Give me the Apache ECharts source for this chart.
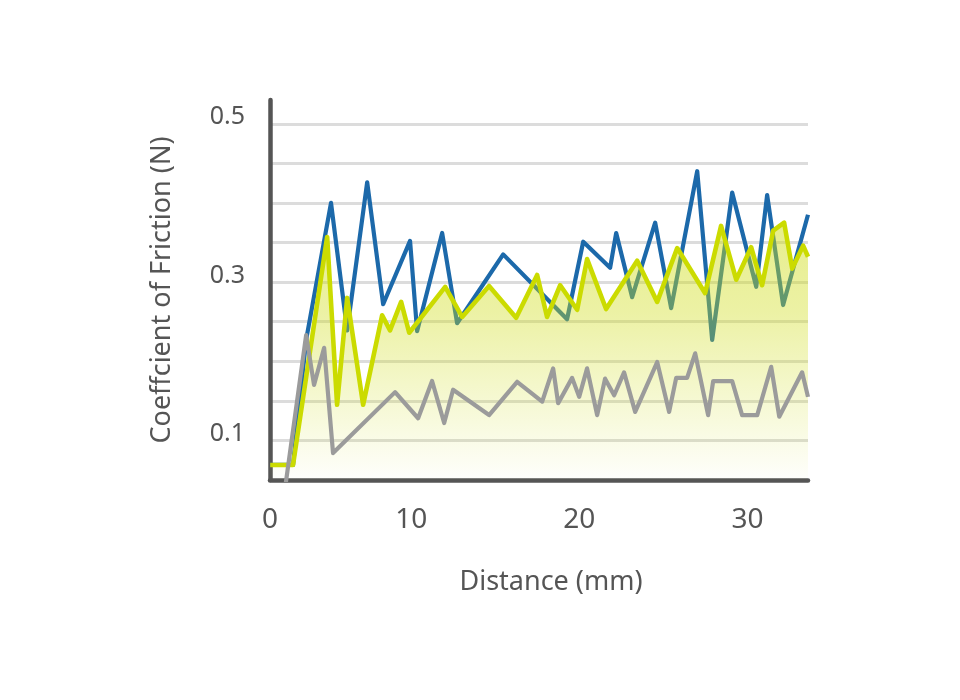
<!DOCTYPE html>
<html>
<head>
<meta charset="utf-8">
<script src="https://cdn.jsdelivr.net/npm/echarts@6/dist/echarts.min.js"></script>
<style>
html,body{margin:0;padding:0;background:#fff;}
#chart{width:960px;height:700px;}
</style>
</head>
<body>
<div id="chart"></div>
<script>
// ---- data ----
var blueX = [1.61, 2.97, 3.75, 5.23, 6.19, 7.38, 8.33, 9.93, 10.35, 11.84, 12.73, 15.47, 19.27, 20.23, 21.83, 22.19, 23.14, 24.51, 25.46, 27.01, 27.90, 29.09, 30.52, 31.17, 32.12, 33.6];
var blueY = [0.069, 0.069, 0.227, 0.400, 0.239, 0.426, 0.272, 0.352, 0.238, 0.362, 0.248, 0.335, 0.253, 0.351, 0.318, 0.362, 0.281, 0.375, 0.267, 0.440, 0.227, 0.413, 0.294, 0.410, 0.271, 0.385];

var yellowX = [1.61, 2.97, 5.00, 5.59, 6.19, 7.14, 8.27, 8.74, 9.40, 9.88, 12.02, 13.03, 14.63, 16.24, 17.49, 18.08, 18.86, 19.87, 20.46, 21.59, 23.44, 24.63, 25.82, 27.48, 28.43, 29.33, 30.22, 30.87, 31.53, 32.18, 32.66, 33.31, 33.6];
var yellowY = [0.069, 0.069, 0.357, 0.145, 0.280, 0.145, 0.258, 0.239, 0.275, 0.236, 0.294, 0.256, 0.295, 0.255, 0.309, 0.256, 0.296, 0.265, 0.329, 0.266, 0.327, 0.275, 0.343, 0.286, 0.371, 0.303, 0.344, 0.296, 0.365, 0.375, 0.317, 0.346, 0.332];

var grayX = [2.50, 3.75, 4.22, 4.82, 5.35, 9.04, 10.41, 11.24, 11.96, 12.49, 14.63, 16.30, 17.79, 18.44, 18.74, 19.57, 19.99, 20.46, 21.06, 21.53, 22.07, 22.66, 23.32, 24.63, 25.34, 25.76, 26.41, 26.89, 27.66, 27.96, 29.09, 29.68, 30.58, 31.41, 31.89, 33.25, 33.6];
var grayY = [0.040, 0.233, 0.170, 0.217, 0.084, 0.161, 0.128, 0.175, 0.122, 0.164, 0.132, 0.174, 0.149, 0.191, 0.147, 0.179, 0.155, 0.191, 0.132, 0.178, 0.157, 0.186, 0.136, 0.199, 0.136, 0.179, 0.179, 0.210, 0.132, 0.175, 0.175, 0.132, 0.132, 0.193, 0.130, 0.186, 0.155];

var xTickValues = [1.6, 10, 20, 30];
var xTickLabels = ['0', '10', '20', '30'];
var yTickLabels = [0.1, 0.3, 0.5];

var xMin = 1.6, xMax = 33.6;
var yMin = 0.05, yMax = 0.53, yStep = 0.05;

function pairs(xs, ys) {
  return xs.map(function (x, i) { return [x, ys[i]]; });
}

var FONT = 'Noto Sans';
var TEXT = '#555555';

var chart = echarts.init(document.getElementById('chart'), null, {renderer: 'canvas'});
chart.setOption({
  backgroundColor: '#ffffff',
  animation: false,
  grid: {left: 270, right: 152, top: 100, bottom: 220, containLabel: false},
  xAxis: {
    type: 'value',
    min: xMin,
    max: xMax,
    name: 'Distance (mm)',
    nameLocation: 'middle',
    nameGap: 89,
    nameTextStyle: {fontFamily: FONT, fontSize: 27, color: TEXT, padding: [0, 0, 0, 24]},
    axisLine: {show: true, onZero: false, lineStyle: {color: '#555555', width: 4.5}},
    axisTick: {show: false},
    splitLine: {show: false},
    axisLabel: {
      customValues: xTickValues,
      margin: 26,
      fontFamily: FONT,
      fontSize: 28,
      color: TEXT,
      formatter: function (v) {
        for (var i = 0; i < xTickValues.length; i++) {
          if (Math.abs(v - xTickValues[i]) < 1e-6) return xTickLabels[i];
        }
        return '';
      }
    }
  },
  yAxis: {
    type: 'value',
    min: yMin,
    max: yMax,
    interval: yStep,
    name: 'Coeffcient of Friction (N)',
    nameLocation: 'middle',
    nameGap: 94,
    nameTextStyle: {fontFamily: FONT, fontSize: 27, color: TEXT},
    axisLine: {show: true, onZero: false, lineStyle: {color: '#555555', width: 4.5}},
    axisTick: {show: false},
    splitLine: {show: true, showMinLine: false, showMaxLine: false, lineStyle: {color: '#dcdcdc', width: 3}},
    axisLabel: {
      margin: 25,
      fontFamily: FONT,
      fontSize: 25,
      color: TEXT,
      verticalAlign: 'bottom',
      lineHeight: 13,
      formatter: function (v) {
        for (var i = 0; i < yTickLabels.length; i++) {
          if (Math.abs(v - yTickLabels[i]) < 1e-6) return String(yTickLabels[i]);
        }
        return '';
      }
    }
  },
  series: [
    {
      name: 'Blue',
      type: 'line',
      data: pairs(blueX, blueY),
      showSymbol: false,
      symbol: 'none',
      lineStyle: {color: '#1c69aa', width: 4.2, join: 'round'},
      z: 2
    },
    {
      name: 'Yellow',
      type: 'line',
      data: pairs(yellowX, yellowY),
      showSymbol: false,
      symbol: 'none',
      lineStyle: {color: '#cbdb00', width: 4.6, join: 'round'},
      areaStyle: {
        color: new echarts.graphic.LinearGradient(0, 0, 0, 1, [
          {offset: 0, color: 'rgba(206,220,20,0.7)'},
          {offset: 0.35, color: 'rgba(206,220,20,0.55)'},
          {offset: 1, color: 'rgba(206,220,20,0.02)'}
        ])
      },
      z: 3
    },
    {
      name: 'Gray',
      type: 'line',
      data: pairs(grayX, grayY),
      showSymbol: false,
      symbol: 'none',
      lineStyle: {color: '#9b9b9b', width: 4.2, join: 'round'},
      z: 4
    }
  ]
});
</script>
</body>
</html>
